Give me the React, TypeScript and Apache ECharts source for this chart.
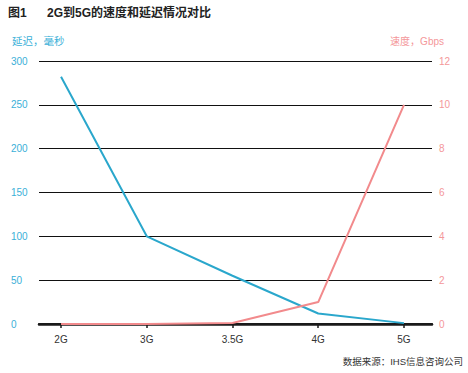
import React, { useEffect, useRef } from "react";
import * as echarts from "echarts";

const categories = ["2G", "3G", "3.5G", "4G", "5G"];
const latencyMs = [282, 100, 55, 12, 1];
const speedGbps = [0, 0, 0.05, 1, 10];
const leftTicks = [0, 50, 100, 150, 200, 250, 300];
const rightTicks = [0, 2, 4, 6, 8, 10, 12];

const BLUE = "#2aa7cc";
const PINK = "#f28a8c";
const FONT = "'Liberation Sans', 'Noto Sans CJK SC', sans-serif";

export default function App() {
  const ref = useRef<HTMLDivElement>(null);
  useEffect(() => {
    const chart = echarts.init(ref.current!, null, { renderer: "svg" });
    const xMin = -0.257;
    const xMax = 4.327;
    chart.setOption({
      animation: false,
      textStyle: { fontFamily: FONT },
      graphic: [
        { type: "text", left: 8, top: 7, style: { text: "图1", font: `bold 12px ${FONT}`, fill: "#222" } },
        { type: "text", left: 47, top: 7, style: { text: "2G到5G的速度和延迟情况对比", font: `bold 12px ${FONT}`, fill: "#222" } },
        { type: "text", left: 12, top: 36, style: { text: "延迟，毫秒", font: `10.5px ${FONT}`, fill: "#3ab0d8" } },
        { type: "text", right: 24, top: 36, style: { text: "速度，Gbps", font: `10px ${FONT}`, fill: "#f4979a" } },
        { type: "text", right: 5, top: 357, style: { text: "数据来源：IHS信息咨询公司", font: `9.5px ${FONT}`, fill: "#333" } },
      ],
      grid: { left: 39, right: 36, top: 61, bottom: 373 - 324, containLabel: false },
      xAxis: [
        {
          type: "value",
          z: 1,
          min: xMin,
          max: xMax,
          axisLine: { show: true, lineStyle: { color: "#1a1a1a", width: 2.5 } },
          axisTick: { show: true, customValues: [0, 1, 2, 3, 4], length: 4, lineStyle: { color: "#1a1a1a", width: 1.5 } },
          axisLabel: {
            customValues: [0, 1, 2, 3, 4],
            formatter: (v: number) => categories[Math.round(v)] ?? "",
            color: "#333",
            fontSize: 10,
            margin: 10,
            fontFamily: FONT,
          },
          splitLine: { show: false },
        },
        {
          type: "value",
          z: 1,
          position: "top",
          min: xMin,
          max: xMax,
          axisLine: { show: true, lineStyle: { color: "#1a1a1a", width: 2 } },
          axisTick: { show: false },
          axisLabel: { show: false },
          splitLine: { show: false },
        },
      ],
      yAxis: [
        {
          type: "value",
          min: leftTicks[0],
          max: leftTicks[leftTicks.length - 1],
          interval: 50,
          axisLine: { show: false },
          axisTick: { show: false },
          axisLabel: { align: "left", margin: 28, color: "#3ab0d8", fontSize: 10, fontFamily: FONT },
          splitLine: { show: true, lineStyle: { color: "#111", width: 1 } },
        },
        {
          type: "value",
          min: rightTicks[0],
          max: rightTicks[rightTicks.length - 1],
          interval: 2,
          axisLine: { show: false },
          axisTick: { show: false },
          axisLabel: { align: "left", margin: 7, color: "#f4979a", fontSize: 10, fontFamily: FONT },
          splitLine: { show: false },
        },
      ],
      series: [
        {
          type: "line",
          name: "延迟",
          yAxisIndex: 0,
          xAxisIndex: 0,
          data: latencyMs.map((v, i) => [i, v]),
          showSymbol: false,
          symbol: "none",
          clip: false,
          lineStyle: { color: BLUE, width: 2 },
          z: 10,
        },
        {
          type: "line",
          name: "速度",
          yAxisIndex: 1,
          xAxisIndex: 0,
          data: speedGbps.map((v, i) => [i, v]),
          showSymbol: false,
          symbol: "none",
          clip: false,
          lineStyle: { color: PINK, width: 2 },
          z: 10,
        },
      ],
    });
    return () => chart.dispose();
  }, []);
  return <div ref={ref} style={{ width: 468, height: 373, position: "absolute", left: 0, top: 0 }} />;
}
